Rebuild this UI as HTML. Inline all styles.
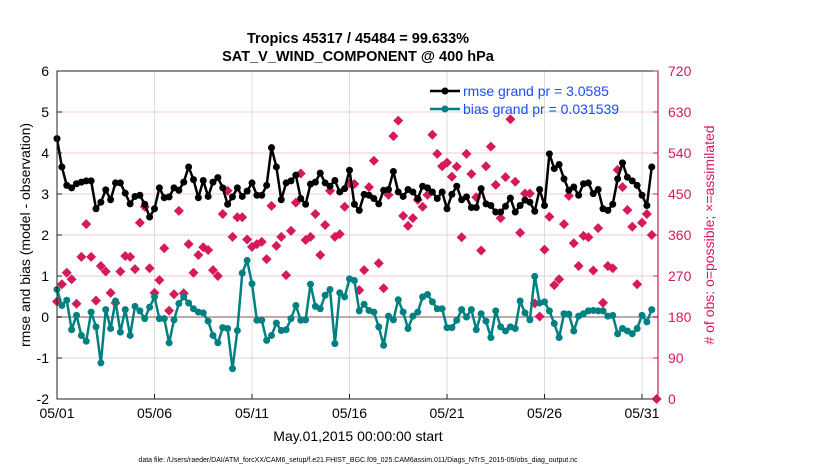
<!DOCTYPE html>
<html><head><meta charset="utf-8"><style>
body{margin:0;background:#fff;}
svg{display:block;font-family:"Liberation Sans",Arial,sans-serif;}
</style></head><body>
<svg id="chart" width="830" height="470" viewBox="0 0 830 470">
<rect width="830" height="470" fill="#fff"/>
<text x="358" y="43" text-anchor="middle" font-size="14.5" font-weight="bold">Tropics 45317 / 45484 = 99.633%</text>
<text x="358" y="61" text-anchor="middle" font-size="14.5" font-weight="bold">SAT_V_WIND_COMPONENT @ 400 hPa</text>
<g id="grid"></g>
<g id="marks"></g>
<g id="axes"></g>
<text transform="translate(30,235) rotate(-90)" text-anchor="middle" font-size="14">rmse and bias (model - observation)</text>
<text transform="translate(714,235) rotate(-90)" text-anchor="middle" font-size="14" fill="#d6185c"># of obs: o=possible; ×=assimilated</text>
<text x="358" y="441" text-anchor="middle" font-size="14">May.01,2015 00:00:00 start</text>
<text x="358" y="462" text-anchor="middle" font-size="7">data file: /Users/raeder/DAI/ATM_forcXX/CAM6_setup/f.e21.FHIST_BGC.f09_025.CAM6assim.011/Diags_NTrS_2015-05/obs_diag_output.nc</text>
<g>
<line x1="430" y1="91" x2="460" y2="91" stroke="#000" stroke-width="2.5"/><circle cx="445" cy="91" r="3.5" fill="#000"/>
<text x="463" y="96" font-size="14" fill="#1a4cff">rmse grand pr = 3.0585</text>
<line x1="430" y1="109" x2="460" y2="109" stroke="#008080" stroke-width="2.5"/><circle cx="445" cy="109" r="3.5" fill="#008080"/>
<text x="463" y="114" font-size="14" fill="#1a4cff">bias grand pr = 0.031539</text>
</g>
</svg>
<script>
const dayLabels=["05/01","05/06","05/11","05/16","05/21","05/26","05/31"];
const dayTicks=[0,5,10,15,20,25,30];
const leftTicks=[-2,-1,0,1,2,3,4,5,6];
const rightTicks=[0,90,180,270,360,450,540,630,720];
const rmse=[4.35,3.66,3.21,3.15,3.25,3.29,3.32,3.32,2.64,2.80,3.1,2.86,3.27,3.27,3.02,2.76,2.94,2.97,2.75,2.44,2.64,3.15,2.91,2.93,3.15,3.09,3.29,3.66,3.35,2.91,3.33,2.94,3.29,3.40,3.15,2.75,2.93,3.15,2.94,3.07,3.27,
2.97,2.97,3.21,4.13,3.66,2.86,3.27,3.32,3.46,2.89,2.75,3.24,3.29,3.51,3.27,3.19,3.33,3.05,3.13,3.58,2.75,2.60,2.99,2.97,2.89,2.76,3.09,3.11,3.55,3.05,2.94,3.11,3.05,2.89,3.19,3.15,3.05,2.89,3.05,2.64,2.99,3.19,
2.86,2.93,2.67,2.67,3.13,2.76,2.72,2.56,2.56,2.70,2.90,2.56,2.72,2.85,2.80,2.58,3.11,2.72,3.98,3.62,3.72,3.37,3.09,3.17,2.97,3.25,3.27,3.01,3.11,2.64,2.60,2.75,3.37,3.76,3.41,3.32,3.21,2.97,2.72,3.66];
const bias=[0.67,0.28,0.41,-0.31,0.04,-0.45,-0.59,0.12,-0.24,-1.12,0.18,-0.28,0.39,-0.37,0.18,-0.45,0.26,0.15,-0.04,0.24,0.49,-0.04,-0.04,-0.63,-0.07,0.33,0.49,0.34,0.20,0.12,0.10,-0.10,-0.45,-0.63,-0.26,-0.28,-1.26,-0.33,1.07,1.38,0.81,
-0.08,-0.08,-0.57,-0.45,-0.15,-0.33,-0.31,-0.04,0.28,-0.08,-0.07,0.80,0.26,0.20,0.53,0.67,-0.65,0.59,0.49,0.93,0.89,0.15,0.31,0.16,0.12,-0.24,-0.69,0.02,-0.07,0.42,0.12,-0.28,0.02,0.12,0.49,0.55,0.37,0.20,0.20,-0.26,-0.26,-0.08,
0.18,0,0.18,-0.31,0.08,-0.10,-0.50,0.15,-0.24,-0.34,-0.24,-0.28,0.39,0.10,-0.07,0.99,0.34,0.37,0.15,-0.16,-0.50,0.08,0.07,-0.34,0.02,0.08,0.15,0.16,0.15,0.15,0.02,0.04,-0.41,-0.28,-0.34,-0.41,-0.28,0.04,-0.12,0.18];
const nobs=[214,252,277,263,209,312,384,312,216,292,280,233,211,280,314,312,285,387,422,287,233,261,331,194,230,413,232,340,277,316,333,327,283,270,406,457,356,399,399,350,334,
340,345,307,424,336,356,272,369,431,495,349,356,406,316,382,457,356,362,422,473,472,239,283,465,523,298,243,448,577,611,402,380,397,437,422,448,580,538,511,519,488,510,
355,538,494,443,326,511,554,470,397,487,614,477,365,451,451,210,181,328,400,250,263,384,446,342,292,358,355,282,375,211,292,287,503,465,415,378,252,387,406,360,0];

const NS="http://www.w3.org/2000/svg";
const X0=57,X1=658,Y0=71,Y1=399,DAY=19.5;
const xDay=d=>X0+d*DAY;
const xIdx=i=>xDay(i/4);
const yL=v=>Y1-(v+2)/8*(Y1-Y0);
const yR=v=>Y1-v/720*(Y1-Y0);
function mk(tag,attrs,parent){const e=document.createElementNS(NS,tag);for(const k in attrs)e.setAttribute(k,attrs[k]);parent.appendChild(e);return e;}
const grid=document.getElementById('grid'),marks=document.getElementById('marks'),axes=document.getElementById('axes');
leftTicks.forEach(t=>{if(t===0)return;const g=mk('line',{x1:X0,x2:X1,y1:yL(t),y2:yL(t),stroke:'#f0c8d8','stroke-width':1},grid);

});
dayTicks.forEach(d=>{const g=mk('line',{x1:xDay(d),x2:xDay(d),y1:Y0,y2:Y1,stroke:'#dcdcdc','stroke-width':1},grid);

});
const z=mk('line',{x1:X0,x2:X1,y1:yL(0),y2:yL(0),stroke:'#c0aaae','stroke-width':2},grid);


// obs markers
nobs.forEach((v,i)=>{const x=xIdx(i),y=yR(v);
const p=mk('path',{d:`M${x} ${y-5}L${x+5} ${y}L${x} ${y+5}L${x-5} ${y}Z`,fill:'#d6185c'},marks);

});
function series(arr,col,name){
const pl=mk('polyline',{points:arr.map((v,i)=>xIdx(i)+','+yL(v)).join(' '),fill:'none',stroke:col,'stroke-width':2.5,'stroke-linejoin':'round'},marks);


arr.forEach((v,i)=>{const c=mk('circle',{cx:xIdx(i),cy:yL(v),r:3.5,fill:col},marks);

});}
series(bias,'#008080','bias');
series(rmse,'#000','rmse');
// axes
mk('rect',{x:X0,y:Y0,width:X1-X0,height:Y1-Y0,fill:'none',stroke:'#222','stroke-width':1},axes);
mk('line',{x1:X1,x2:X1,y1:Y0,y2:Y1,stroke:'#d6185c','stroke-width':1.2},axes);
leftTicks.forEach(t=>{mk('line',{x1:X0,x2:X0+5,y1:yL(t),y2:yL(t),stroke:'#222'},axes);
const tx=mk('text',{x:X0-8,y:yL(t)+5,'text-anchor':'end','font-size':14},axes);tx.textContent=t;

});
rightTicks.forEach(t=>{mk('line',{x1:X1-5,x2:X1,y1:yR(t),y2:yR(t),stroke:'#d6185c'},axes);
const tx=mk('text',{x:X1+10,y:yR(t)+5,'font-size':14,fill:'#d6185c'},axes);tx.textContent=t;

});
dayTicks.forEach((d,k)=>{mk('line',{x1:xDay(d),x2:xDay(d),y1:Y1,y2:Y1-5,stroke:'#222'},axes);
const tx=mk('text',{x:xDay(d),y:Y1+19,'text-anchor':'middle','font-size':14},axes);tx.textContent=dayLabels[k];

});
</script>
</body></html>
